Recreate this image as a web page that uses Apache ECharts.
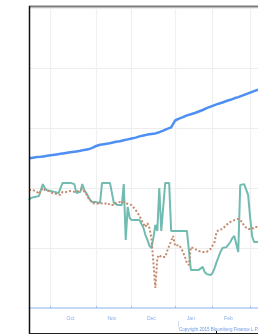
<!DOCTYPE html>
<html>
<head>
<meta charset="utf-8">
<script src="https://cdn.jsdelivr.net/npm/echarts@6/dist/echarts.min.js"></script>
<style>
html,body{margin:0;padding:0;background:#fff;}
#chart{width:258px;height:336px;}
</style>
</head>
<body>
<div id="chart"></div>
<script>
// Trading-day months shown on the x axis
var monthNames = ['Sep','Oct','Nov','Dec','Jan','Feb','Mar'];
var monthLen   = [11, 23, 18, 22, 19, 19, 5];
var tickLabels = ['Oct','Nov','Dec','Jan','Feb'];
var copyrightText = 'Copyright 2015 Bloomberg Finance L.P.';

// Upper series (blue)
var blueSeries = [49.9,50.0,50.1,50.2,50.3,50.3,50.4,50.5,50.6,50.7,50.8,50.9,51.0,51.1,51.2,51.3,51.4,51.5,51.6,51.7,
51.8,51.9,52.0,52.1,52.2,52.3,52.4,52.6,52.7,52.8,52.9,53.2,53.4,53.7,54.0,54.2,54.4,54.5,54.6,54.7,
54.8,55.0,55.1,55.2,55.4,55.5,55.6,55.8,55.9,56.1,56.2,56.4,56.5,56.7,56.8,57.0,57.2,57.3,57.5,57.7,
57.8,57.9,58.0,58.1,58.2,58.3,58.6,58.9,59.1,59.4,59.7,59.9,60.2,60.2,62.5,62.8,63.1,63.3,63.6,63.9,
64.2,64.4,64.6,64.8,65.0,65.2,65.5,65.8,66.0,66.3,66.6,66.8,67.1,67.3,67.6,67.8,68.1,68.3,68.5,68.8,
69.0,69.2,69.4,69.7,69.9,70.1,70.3,70.6,70.8,71.1,71.3,71.6,71.8,72.1,72.3,72.6,72.8];

// Lower series (teal, solid)
var tealSeries = [36.0,36.7,37.0,37.0,37.3,37.3,37.7,41.3,40.0,39.3,39.0,39.0,39.0,38.7,38.7,38.3,38.7,41.7,41.7,41.7,
41.7,41.7,41.7,41.3,38.3,38.3,38.7,41.3,39.3,38.3,38.0,36.0,35.3,35.3,35.3,35.0,35.0,41.7,41.7,41.7,
41.7,41.7,41.7,35.0,34.7,34.3,34.3,34.3,41.3,22.7,33.7,30.0,29.3,29.3,29.3,29.3,29.3,28.7,26.7,24.3,
22.7,20.7,20.0,23.3,27.7,25.7,40.0,25.7,26.0,41.7,41.7,41.7,25.7,25.7,25.7,25.7,25.7,25.7,25.7,25.7,
25.7,25.3,12.7,12.7,12.7,12.7,12.7,13.0,13.7,12.0,11.3,11.0,11.0,11.7,13.3,15.3,17.0,18.7,20.0,20.0,
20.3,20.3,22.0,23.3,24.0,24.0,18.7,41.0,41.3,41.3,41.3,37.7,30.3,24.0,22.0,22.0,22.0];

// Lower series (brown, dotted)
var brownSeries = [39.3,39.0,39.3,38.7,38.7,38.0,39.0,40.0,39.3,39.7,39.0,39.0,38.3,38.7,38.0,37.7,37.7,38.7,39.0,38.7,
39.3,39.0,39.3,38.7,38.3,39.0,39.0,39.7,39.3,38.0,36.7,36.0,35.0,35.0,34.7,35.3,35.0,35.3,34.7,35.0,
35.0,34.3,34.3,34.3,35.0,35.0,35.3,35.0,35.3,35.0,34.7,34.7,34.3,33.7,32.7,31.7,30.7,29.3,28.0,27.0,
28.3,26.7,23.3,15.3,6.7,16.7,17.7,17.0,17.3,17.0,19.0,20.7,22.3,24.0,20.7,21.3,21.0,20.0,18.7,17.0,
15.0,14.3,20.3,20.0,19.7,19.3,19.0,18.7,18.7,18.3,18.7,19.3,19.7,20.3,22.0,25.3,26.0,26.3,26.3,27.0,
27.7,28.0,28.7,29.0,29.3,29.7,29.7,29.3,28.7,27.3,26.7,26.3,26.0,26.3,27.0,27.0,27.0];

// Build categories from month names/lengths
var categories = [];
var monthStart = {};
var labelIdx = {};
(function(){
  var idx = 0;
  for (var m = 0; m < monthNames.length; m++) {
    monthStart[idx] = true;
    var mid = idx + Math.floor(monthLen[m] / 2) - 1;
    if (tickLabels.indexOf(monthNames[m]) >= 0) labelIdx[mid] = monthNames[m];
    for (var d = 0; d < monthLen[m]; d++) {
      categories.push(monthNames[m] + ' ' + (d + 1));
      idx++;
    }
  }
})();

var chart = echarts.init(document.getElementById('chart'), null, {renderer: 'canvas'});
chart.setOption({
  animation: false,
  backgroundColor: '#ffffff',
  grid: {left: 29, right: -3, top: 8, bottom: 28, containLabel: false},
  xAxis: {
    type: 'category',
    data: categories,
    boundaryGap: false,
    offset: 6,
    axisLine: {show: true, lineStyle: {color: '#b3d0f5', width: 1.5}},
    axisTick: {show: true, length: 2, inside: true,
      interval: function(i){ return !!monthStart[i]; },
      lineStyle: {color: '#9cbdee'}},
    axisLabel: {
      show: true,
      interval: function(i){ return !!labelIdx[i]; },
      formatter: function(v, i){ return labelIdx[i] || ''; },
      fontSize: 5, color: '#86aeea', margin: 2, fontFamily: 'Liberation Sans'
    },
    splitLine: {show: true,
      interval: function(i){ return !!monthStart[i] && i > 0; },
      lineStyle: {color: '#f0f0f0', width: 1.2}}
  },
  yAxis: {
    type: 'value',
    min: 0, max: 100, interval: 20,
    axisLine: {show: false}, axisTick: {show: false}, axisLabel: {show: false},
    splitLine: {show: true, lineStyle: {color: '#ededed', width: 1.2}}
  },
  series: [
    {type: 'line', data: tealSeries, showSymbol: false, symbol: 'none',
     lineStyle: {color: '#72bbb1', width: 2}, z: 3},
    {type: 'line', data: brownSeries, showSymbol: false, symbol: 'none',
     lineStyle: {color: '#c48a6d', width: 2, type: [2, 2]}, z: 4},
    {type: 'line', data: blueSeries, showSymbol: false, symbol: 'none',
     lineStyle: {color: '#4d8ff2', width: 2.5}, z: 5}
  ],
  graphic: [
    {type: 'line', shape: {x1: 29, y1: 6.5, x2: 258, y2: 6.5}, style: {stroke: '#7a7a7a', lineWidth: 2}, z: 100},
    {type: 'line', shape: {x1: 29.5, y1: 6, x2: 29.5, y2: 334}, style: {stroke: '#111111', lineWidth: 1.5}, z: 100},
    {type: 'line', shape: {x1: 29, y1: 333.5, x2: 258, y2: 333.5}, style: {stroke: '#222222', lineWidth: 1.2}, z: 100},
    {type: 'line', shape: {x1: 216.5, y1: 331, x2: 216.5, y2: 334}, style: {stroke: '#111111', lineWidth: 1}, z: 100},
    {type: 'line', shape: {x1: 178.5, y1: 321, x2: 178.5, y2: 327}, style: {stroke: '#c9dbf5', lineWidth: 1}, z: 100},
    {type: 'text', x: 179, y: 327, z: 100,
     style: {text: copyrightText, fontSize: 4.5, fill: '#6a98e2', fontFamily: 'Liberation Sans'}}
  ]
});
</script>
</body>
</html>
